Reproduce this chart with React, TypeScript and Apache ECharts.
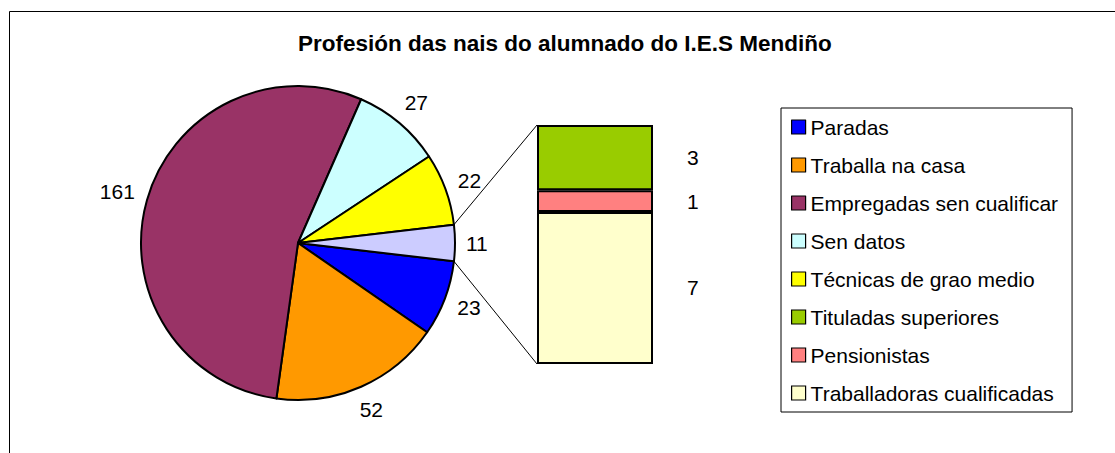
import React, { useEffect, useRef } from "react";
import * as echarts from "echarts";

const titleText = "Profesión das nais do alumnado do I.E.S Mendiño";

const pieNames = ["Paradas", "Traballa na casa", "Empregadas sen cualificar", "Sen datos", "Técnicas de grao medio"];
const pieValues = [23, 52, 161, 27, 22];
const pieColors = ["#0000FF", "#FF9900", "#993366", "#CCFFFF", "#FFFF00"];

const otherName = "Outras";
const otherColor = "#CCCCFF";

const barNames = ["Tituladas superiores", "Pensionistas", "Traballadoras cualificadas"];
const barValues = [3, 1, 7];
const barColors = ["#99CC00", "#FF8080", "#FFFFCC"];

const FONT = "'Liberation Sans', Arial, Helvetica, sans-serif";

// layout
const CX = 298;
const CY = 243;
const R = 157;
const BAR_LEFT = 537;
const BAR_TOP = 125;
const BAR_W = 116;
const BAR_H = 239;

export default function App() {
  const ref = useRef<HTMLDivElement>(null);

  useEffect(() => {
    if (!ref.current) return;
    const chart = echarts.init(ref.current, undefined, { renderer: "svg" });

    const otherValue = barValues.reduce((a, b) => a + b, 0);
    const allValues = [...pieValues, otherValue];
    const total = allValues.reduce((a, b) => a + b, 0);
    const half = (otherValue / total) * 180; // degrees
    const startAngle = -half;
    const mids: number[] = [];
    let cum = 0;
    allValues.forEach((v) => {
      mids.push(startAngle - ((cum + v / 2) / total) * 360);
      cum += v;
    });

    const rad = (d: number) => (d * Math.PI) / 180;
    const ex = CX + R * Math.cos(rad(half));
    const eyTop = CY - R * Math.sin(rad(half));
    const eyBot = CY + R * Math.sin(rad(half));

    const pieData = [
      ...pieNames.map((n, i) => ({ name: n, value: pieValues[i], itemStyle: { color: pieColors[i] } })),
      { name: otherName, value: otherValue, itemStyle: { color: otherColor } },
    ];

    const barSeries = barNames
      .map((n, i) => ({ n, v: barValues[i], c: barColors[i] }))
      .reverse()
      .map((b) => ({
        type: "bar",
        name: b.n,
        stack: "other",
        data: [b.v],
        barWidth: "100%",
        xAxisIndex: 0,
        yAxisIndex: 0,
        itemStyle: { color: b.c, borderColor: "#000", borderWidth: 2 },
        label: {
          show: true,
          position: "right",
          distance: 34,
          formatter: "{c}",
          fontSize: 21,
          color: "#000",
          fontFamily: FONT,
        },
        silent: true,
      }));

    chart.setOption({
      animation: false,
      backgroundColor: "#fff",
      title: {
        text: titleText,
        left: 298,
        top: 32,
        padding: 0,
        textStyle: { fontSize: 22.5, fontWeight: "bold", color: "#000", fontFamily: FONT },
      },
      legend: {
        orient: "vertical",
        left: 781,
        top: 108,
        padding: [8, 14, 8, 10],
        borderColor: "#000",
        borderWidth: 1,
        itemWidth: 14,
        itemHeight: 14,
        itemGap: 16,
        icon: "rect",
        selectedMode: false,
        itemStyle: { borderColor: "#000", borderWidth: 1.2 },
        textStyle: { fontSize: 21, lineHeight: 22, color: "#000", fontFamily: FONT },
        data: [...pieNames, ...barNames],
      },
      grid: { left: BAR_LEFT, top: BAR_TOP, width: BAR_W, height: BAR_H },
      xAxis: { type: "category", data: [""], show: false },
      yAxis: { type: "value", min: 0, max: otherValue, show: false },
      graphic: [
        {
          type: "rect",
          shape: { x: 9.5, y: 11.5, width: 1300, height: 700 },
          style: { fill: "none", stroke: "#000", lineWidth: 1 },
          silent: true,
        },
        {
          type: "line",
          shape: { x1: ex, y1: eyTop, x2: BAR_LEFT, y2: BAR_TOP },
          style: { stroke: "#000", lineWidth: 1 },
          silent: true,
        },
        {
          type: "line",
          shape: { x1: ex, y1: eyBot, x2: BAR_LEFT, y2: BAR_TOP + BAR_H },
          style: { stroke: "#000", lineWidth: 1 },
          silent: true,
        },
      ],
      series: [
        {
          type: "pie",
          center: [CX, CY],
          radius: R,
          startAngle,
          clockwise: true,
          avoidLabelOverlap: false,
          silent: true,
          data: pieData,
          itemStyle: { borderColor: "#000", borderWidth: 2 },
          label: {
            show: true,
            position: "outside",
            formatter: "{c}",
            fontSize: 21,
            color: "#000",
            fontFamily: FONT,
          },
          labelLine: { show: false },
          labelLayout: (p: any) => {
            const a = rad(mids[p.dataIndex]);
            const w = p.labelRect ? p.labelRect.width : 24;
            const h = p.labelRect ? p.labelRect.height : 24;
            const ext = Math.abs(Math.cos(a)) * w / 2 + Math.abs(Math.sin(a)) * h / 2;
            const d = R + 11 + ext;
            return {
              x: CX + d * Math.cos(a),
              y: CY - d * Math.sin(a),
              align: "center",
              verticalAlign: "middle",
            };
          },
        },
        ...barSeries,
      ],
    });

    return () => chart.dispose();
  }, []);

  return (
    <div
      ref={ref}
      style={{ position: "absolute", left: 0, top: 0, width: 1115, height: 453, background: "#fff" }}
    />
  );
}
